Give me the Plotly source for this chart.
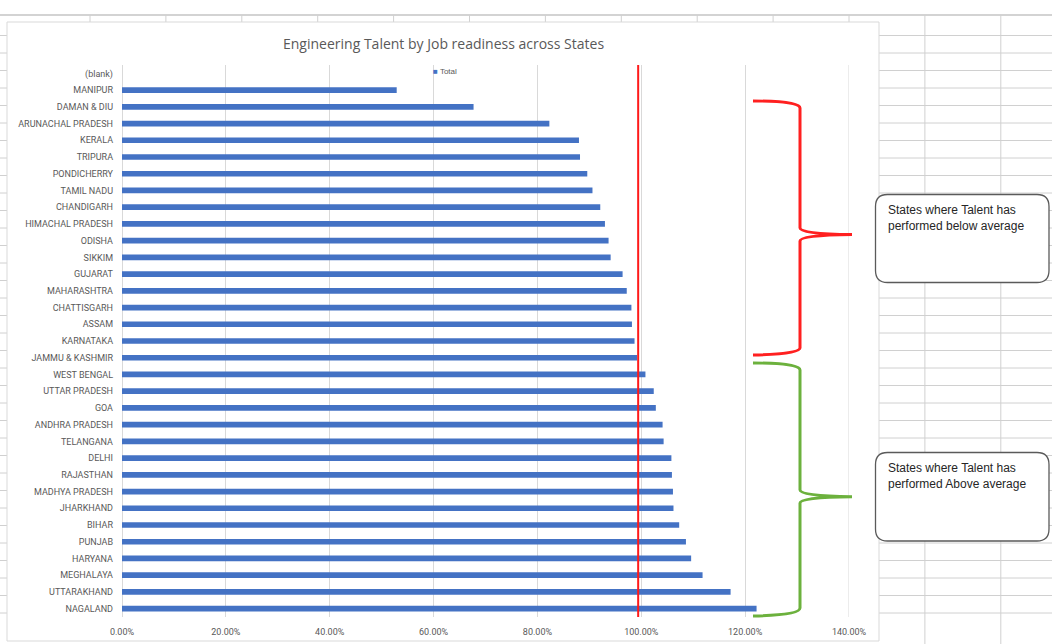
import plotly.graph_objects as go

# ---------------- data ----------------
states = ["(blank)", "MANIPUR", "DAMAN & DIU", "ARUNACHAL PRADESH", "KERALA", "TRIPURA",
          "PONDICHERRY", "TAMIL NADU", "CHANDIGARH", "HIMACHAL PRADESH", "ODISHA", "SIKKIM",
          "GUJARAT", "MAHARASHTRA", "CHATTISGARH", "ASSAM", "KARNATAKA", "JAMMU & KASHMIR",
          "WEST BENGAL", "UTTAR PRADESH", "GOA", "ANDHRA PRADESH", "TELANGANA", "DELHI",
          "RAJASTHAN", "MADHYA PRADESH", "JHARKHAND", "BIHAR", "PUNJAB", "HARYANA",
          "MEGHALAYA", "UTTARAKHAND", "NAGALAND"]
total = [None, 0.529, 0.677, 0.823, 0.880, 0.882,
         0.896, 0.906, 0.921, 0.930, 0.937, 0.941,
         0.964, 0.972, 0.981, 0.982, 0.987, 0.992,
         1.008, 1.024, 1.028, 1.041, 1.043, 1.058,
         1.059, 1.061, 1.062, 1.073, 1.086, 1.096,
         1.118, 1.172, 1.222]
average = 0.994
x_ticks = [0, 0.2, 0.4, 0.6, 0.8, 1.0, 1.2, 1.4]
title = "Engineering Talent by Job readiness across States"
below_text = "States where Talent has<br>performed below average"
above_text = "States where Talent has<br>performed Above average"

# ---------------- layout geometry ----------------
W, H = 1052, 644
ML, MR, MT, MB = 122, 203, 65, 27
PW = W - ML - MR
PH = H - MT - MB


def fx(x):
    return (x - ML) / PW


def fy(y):
    return (H - MB - y) / PH


def path(cmds):
    out = []
    for c in cmds:
        if isinstance(c, str):
            out.append(c)
        else:
            out.append(f"{fx(c[0]):.5f},{fy(c[1]):.5f}")
    return " ".join(out)


GRID = "#d0d0d0"
shapes = []

# spreadsheet background grid
shapes.append(dict(type="line", xref="paper", yref="paper", x0=fx(0), x1=fx(W), y0=fy(15), y1=fy(15),
                   line=dict(color="#c4c4c4", width=1.5), layer="below"))
for k in range(13):
    cx = 90 + k * 75.9
    if cx < 878:
        shapes.append(dict(type="line", xref="paper", yref="paper", x0=fx(cx), x1=fx(cx), y0=fy(15), y1=fy(22),
                           line=dict(color=GRID, width=1), layer="below"))
    else:
        shapes.append(dict(type="line", xref="paper", yref="paper", x0=fx(cx), x1=fx(cx), y0=fy(15), y1=fy(H),
                           line=dict(color=GRID, width=1), layer="below"))
for k in range(34):
    ry = 35.5 + k * 17.5
    shapes.append(dict(type="line", xref="paper", yref="paper", x0=fx(879), x1=fx(W), y0=fy(ry), y1=fy(ry),
                       line=dict(color=GRID, width=1), layer="below"))
    shapes.append(dict(type="line", xref="paper", yref="paper", x0=fx(0), x1=fx(7), y0=fy(ry), y1=fy(ry),
                       line=dict(color=GRID, width=1), layer="below"))

# chart area border
shapes.append(dict(type="rect", xref="paper", yref="paper", x0=fx(7), x1=fx(879), y0=fy(22), y1=fy(641),
                   line=dict(color="#d9d9d9", width=1), fillcolor="rgba(0,0,0,0)", layer="below"))

# last vertical gridline at the right edge of the value axis
shapes.append(dict(type="line", xref="x", yref="paper", x0=x_ticks[-1], x1=x_ticks[-1], y0=0, y1=1,
                   line=dict(color="#d9d9d9", width=1), layer="below"))

# average line
shapes.append(dict(type="line", xref="x", yref="paper", x0=average, x1=average, y0=0, y1=1,
                   line=dict(color="#ff1a1a", width=2)))

# brackets
red_br = path(["M", (753, 101), "Q", (800, 101), (800, 108), "L", (800, 228),
               "Q", (800, 234), (852, 234.5), "Q", (800, 235), (800, 241), "L", (800, 348),
               "Q", (800, 354), (753, 355)])
green_br = path(["M", (753, 363), "Q", (800, 363), (800, 370), "L", (800, 490),
                 "Q", (800, 496), (852, 496.7), "Q", (800, 497), (800, 503), "L", (800, 608),
                 "Q", (800, 615), (753, 616)])
shapes.append(dict(type="path", xref="paper", yref="paper", path=red_br,
                   line=dict(color="#ff2020", width=3)))
shapes.append(dict(type="path", xref="paper", yref="paper", path=green_br,
                   line=dict(color="#6cb13d", width=3)))


def rounded_box(x0, y0, x1, y1, r):
    return path(["M", (x0 + r, y0), "L", (x1 - r, y0), "Q", (x1, y0), (x1, y0 + r),
                 "L", (x1, y1 - r), "Q", (x1, y1), (x1 - r, y1),
                 "L", (x0 + r, y1), "Q", (x0, y1), (x0, y1 - r),
                 "L", (x0, y0 + r), "Q", (x0, y0), (x0 + r, y0), "Z"])


for (by0, by1) in [(194.5, 282.5), (452.5, 541)]:
    shapes.append(dict(type="path", xref="paper", yref="paper", path=rounded_box(875.5, by0, 1049, by1, 12),
                       line=dict(color="#5a5a5a", width=1.3), fillcolor="white"))

# ---------------- figure ----------------
fig = go.Figure()
fig.add_trace(go.Bar(
    y=states, x=total, orientation="h", name="Total",
    marker=dict(color="#4472c4", line=dict(width=0)), width=0.34, showlegend=False,
))

annotations = [
    dict(text=title, xref="paper", yref="paper", x=fx(443.5), y=fy(43), showarrow=False,
         font=dict(family="Open Sans, Liberation Sans, sans-serif", size=14, color="#595959"),
         xanchor="center", yanchor="middle"),
    dict(text="<span style='color:#4472c4'>■</span> Total", xref="paper", yref="paper",
         x=fx(431), y=fy(71), showarrow=False,
         font=dict(family="Liberation Sans, sans-serif", size=8, color="#595959"),
         xanchor="left", yanchor="middle"),
    dict(text=below_text, xref="paper", yref="paper", x=fx(886), y=fy(201), showarrow=False,
         align="left", xanchor="left", yanchor="top",
         font=dict(family="Liberation Sans, Arial, sans-serif", size=12, color="#262626")),
    dict(text=above_text, xref="paper", yref="paper", x=fx(886), y=fy(459), showarrow=False,
         align="left", xanchor="left", yanchor="top",
         font=dict(family="Liberation Sans, Arial, sans-serif", size=12, color="#262626")),
]

fig.update_layout(
    width=W, height=H,
    margin=dict(l=ML, r=MR, t=MT, b=MB, pad=0, autoexpand=False),
    paper_bgcolor="white", plot_bgcolor="rgba(0,0,0,0)",
    shapes=shapes, annotations=annotations,
    xaxis=dict(range=[0, 1.4], tickvals=x_ticks, tickformat=".2%", automargin=False,
               showgrid=True, gridcolor="#d9d9d9", gridwidth=1,
               zeroline=True, zerolinecolor="#d9d9d9", zerolinewidth=1,
               showline=False, ticks="", ticklabelstandoff=8,
               tickfont=dict(family="Roboto, sans-serif", size=9, color="#595959")),
    yaxis=dict(type="category", categoryorder="array", categoryarray=states,
               range=[len(states) - 0.5, -0.5], automargin=False,
               showgrid=False, zeroline=False, showline=False,
               ticks="", ticklabelstandoff=8,
               tickfont=dict(family="Roboto, sans-serif", size=9, color="#595959")),
)

fig.write_html("out.html")
